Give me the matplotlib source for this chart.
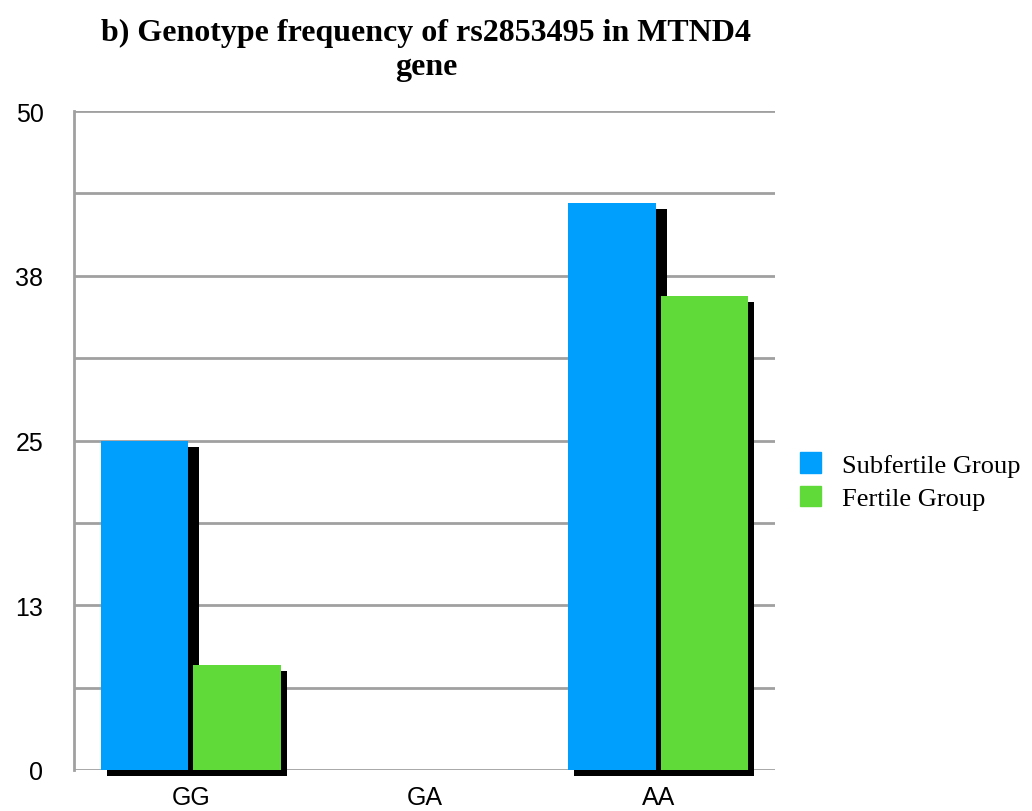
import numpy as np
import matplotlib.pyplot as plt
import matplotlib.transforms as mtransforms
from matplotlib.patches import Patch, Rectangle

# genotype counts per group
genotypes = ['GG', 'GA', 'AA']
subfertile = [25, 0, 43]
fertile = [8, 0, 36]

ytick_vals = [0, 12.5, 25, 37.5, 50]
ytick_text = ['0', '13', '25', '38', '50']

blue = '#009ffe'
green = '#5fda38'
grid_gray = '#a0a0a0'

fig = plt.figure(figsize=(10.32, 8.12), dpi=100)
ax = fig.add_axes([0.0717, 0.0505, 0.6793, 0.8115])

x = np.arange(len(genotypes))
w = 0.375
off = 0.198

b1 = ax.bar(x - off, subfertile, w, color=blue, zorder=3, clip_on=False)
b2 = ax.bar(x + off, fertile, w, color=green, zorder=3, clip_on=False)

# black drop shadow, shifted 6px right and down
shift = ax.transData + mtransforms.ScaledTranslation(0.06, -0.06, fig.dpi_scale_trans)
for p1, p2 in zip(b1, b2):
    if p1.get_height() > 0:
        ax.add_patch(Rectangle((p1.get_x(), 0), p2.get_x() - p1.get_x(), p1.get_height(),
                               color='black', lw=0, transform=shift, zorder=2, clip_on=False))
    if p2.get_height() > 0:
        ax.add_patch(Rectangle((p2.get_x(), 0), p2.get_width(), p2.get_height(),
                               color='black', lw=0, transform=shift, zorder=2, clip_on=False))

ax.set_xlim(-0.5, 2.5)
ax.set_ylim(0, 50)

# horizontal grid every 6.25
for g in np.arange(0, 50.01, 6.25):
    ax.axhline(g, color=grid_gray, lw=2, zorder=1)

for s in ['top', 'right', 'bottom']:
    ax.spines[s].set_visible(False)
ax.spines['left'].set_color(grid_gray)
ax.spines['left'].set_linewidth(2)

ax.set_yticks(ytick_vals)
ax.set_yticklabels(ytick_text)
ax.set_xticks(x)
ax.set_xticklabels(genotypes)
ax.tick_params(axis='both', length=0, labelsize=18, labelcolor='black')
ax.tick_params(axis='y', pad=22)
ax.tick_params(axis='x', pad=11)
for lbl in ax.get_xticklabels() + ax.get_yticklabels():
    lbl.set_family('Liberation Sans')

fig.text(0.413, 0.977, 'b) Genotype frequency of rs2853495 in MTND4\ngene',
         ha='center', va='top', fontsize=23, fontweight='bold',
         family='Liberation Serif', linespacing=1.25)

handles = [Patch(color=blue, label='Subfertile Group'),
           Patch(color=green, label='Fertile Group')]
fig.legend(handles=handles, loc='center left', bbox_to_anchor=(0.752, 0.406),
           frameon=False, prop={'family': 'Liberation Serif', 'size': 19},
           handlelength=0.8, handleheight=0.8, handletextpad=0.8, labelspacing=0.35)

fig.savefig('out.png', dpi=100)
